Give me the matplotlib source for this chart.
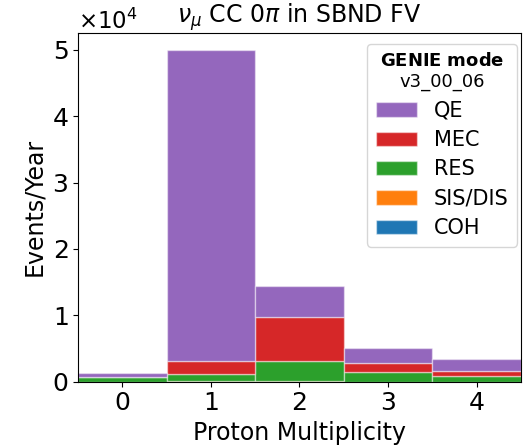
import matplotlib
matplotlib.use("Agg")
import matplotlib.pyplot as plt
import numpy as np

multiplicity = [0, 1, 2, 3, 4]
tick_labels = ["0", "1", "2", "3", "4"]
coh = [0, 0, 0, 0, 0]
sis_dis = [20, 80, 150, 20, 20]
res = [650, 1040, 2940, 1490, 880]
mec = [30, 2010, 6710, 1360, 670]
qe = [570, 46900, 4570, 2230, 1860]

series = [("COH", coh, "#1f77b4"), ("SIS/DIS", sis_dis, "#ff7f0e"),
          ("RES", res, "#2ca02c"), ("MEC", mec, "#d62728"), ("QE", qe, "#9467bd")]

fig = plt.figure(figsize=(5.30, 4.48), dpi=100)
ax = fig.add_axes([0.147, 0.148, 0.836, 0.778])

bottom = np.zeros(len(multiplicity))
handles = {}
for name, vals, col in series:
    vals = np.array(vals, dtype=float)
    b = ax.bar(multiplicity, vals, width=1.0, bottom=bottom, color=col,
               edgecolor=(1, 1, 1, 0.45), linewidth=1.0, label=name)
    handles[name] = b
    bottom += vals

ax.set_xlim(-0.5, 4.5)
ax.set_xticks(multiplicity)
ax.set_xticklabels(tick_labels)
ax.ticklabel_format(style='sci', axis='y', scilimits=(0, 0), useMathText=True)
ax.yaxis.get_offset_text().set_fontsize(16.5)
ax.tick_params(labelsize=18)
ax.set_xlabel("Proton Multiplicity", fontsize=17)
ax.set_ylabel("Events/Year", fontsize=17)
ax.set_title(r"$\nu_\mu$ CC 0$\pi$ in SBND FV", fontsize=17)

order = ["QE", "MEC", "RES", "SIS/DIS", "COH"]
leg = ax.legend([handles[n] for n in order], order, loc="upper right",
                bbox_to_anchor=(0.991, 0.969), borderaxespad=0,
                title=r"$\bf{GENIE\ mode}$" + "\nv3_00_06",
                fontsize=15, title_fontsize=13, handlelength=2.0,
                handleheight=0.7, labelspacing=0.45, handletextpad=0.8)
leg.get_title().set_multialignment("center")
leg._legend_box.align = "center"

fig.savefig("out.png", dpi=100)
